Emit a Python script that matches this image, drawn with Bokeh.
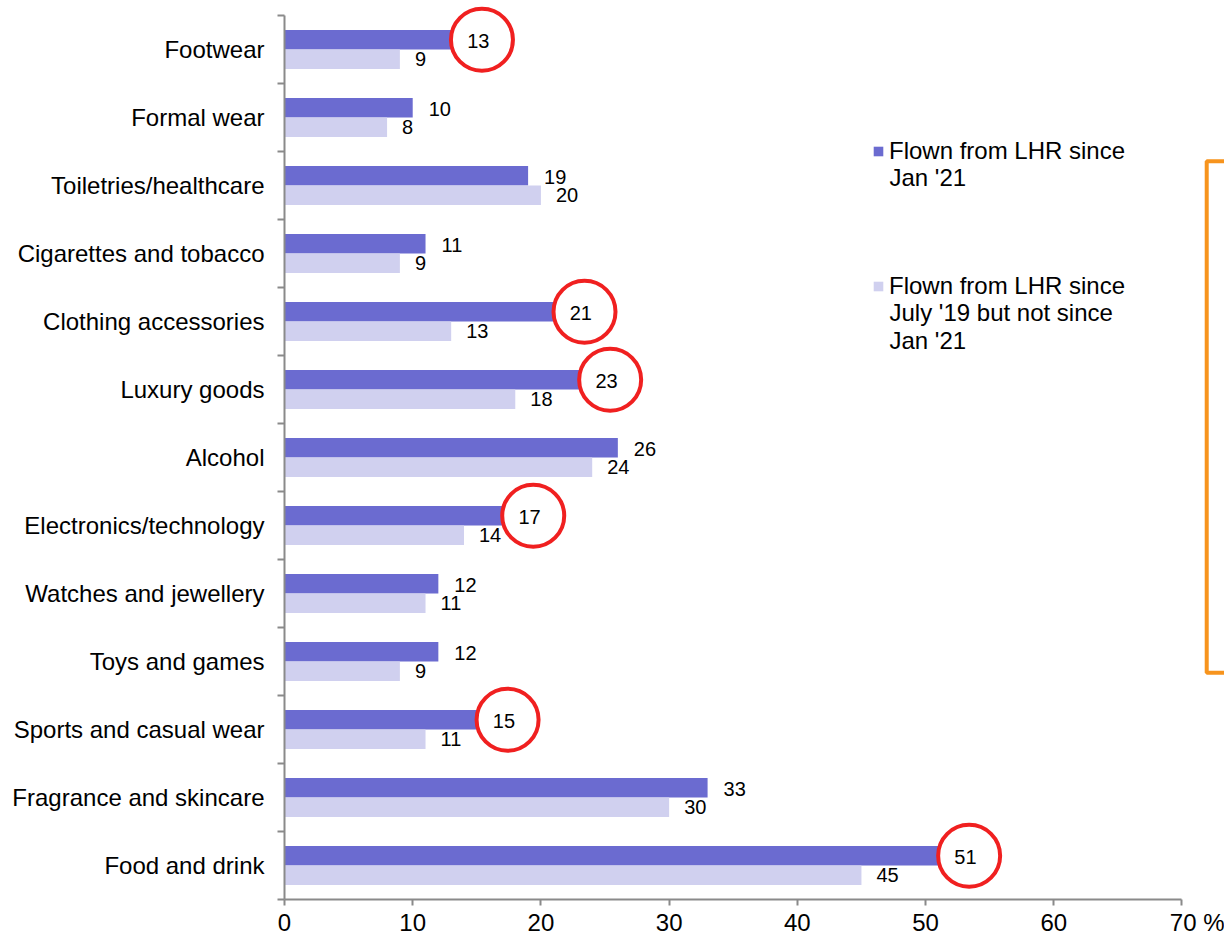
import numpy as np
from bokeh.plotting import figure
from bokeh.models import Range1d, FixedTicker, Legend, LegendItem, Label, BoxAnnotation
from bokeh.core.properties import value
from bokeh.embed import file_html
from bokeh.resources import INLINE

# ---- data (top to bottom) ----
categories = ["Footwear", "Formal wear", "Toiletries/healthcare", "Cigarettes and tobacco",
              "Clothing accessories", "Luxury goods", "Alcohol", "Electronics/technology",
              "Watches and jewellery", "Toys and games", "Sports and casual wear",
              "Fragrance and skincare", "Food and drink"]
since_jan21 = [13, 10, 19, 11, 21, 23, 26, 17, 12, 12, 15, 33, 51]
july19_not_jan21 = [9, 8, 20, 9, 13, 18, 24, 14, 11, 9, 11, 30, 45]
highlighted = ["Footwear", "Clothing accessories", "Luxury goods", "Electronics/technology",
               "Sports and casual wear", "Food and drink"]
x_ticks = [0, 10, 20, 30, 40, 50, 60, 70]
series_first_lines = ["Flown from LHR since", "Flown from LHR since"]
series_more_lines = [["Jan '21"], ["July '19 but not since", "Jan '21"]]
unit_label = "%"

DARK = "#6B6BD0"
LIGHT = "#D0D0EF"
AXIS = "#8A8A8A"
FONT = "Liberation Sans"

n = len(categories)
centers = n - 0.5 - np.arange(n)
BAR_H = 0.286
dark_y = centers + BAR_H / 2
light_y = centers - BAR_H / 2

W, H = 1224, 938
LEFT, TOP, BOTTOM = 284, 4, 38
AXIS_TOP = 15                       # where the category axis begins
frame_w = W - LEFT
band = (H - BOTTOM - AXIS_TOP) / n
px_per_unit = 12.821
x_end = frame_w / px_per_unit
y_end = n + (AXIS_TOP - TOP) / band


def y_of(py):
    # vertical page position -> y value
    return y_end - (py - TOP) / band


p = figure(width=W, height=H, x_range=Range1d(0, x_end), y_range=Range1d(0, y_end),
           output_backend="svg", toolbar_location=None,
           min_border_left=LEFT, min_border_right=0, min_border_top=TOP, min_border_bottom=BOTTOM)
p.outline_line_color = None
p.grid.visible = False
p.background_fill_color = "white"

r_dark = p.hbar(y=dark_y, left=0, right=since_jan21, height=BAR_H, fill_color=DARK, line_color=None)
r_light = p.hbar(y=light_y, left=0, right=july19_not_jan21, height=BAR_H, fill_color=LIGHT, line_color=None)

p.text(x=since_jan21, y=dark_y, text=[str(v) for v in since_jan21], x_offset=16, y_offset=1,
       text_baseline="middle", text_align="left", text_font=value(FONT), text_font_size="20px",
       text_color="black")
p.text(x=july19_not_jan21, y=light_y, text=[str(v) for v in july19_not_jan21], x_offset=15, y_offset=0,
       text_baseline="middle", text_align="left", text_font=value(FONT), text_font_size="20px",
       text_color="black")

hi_idx = [categories.index(c) for c in highlighted]
p.scatter(x=[since_jan21[i] + 2.4 for i in hi_idx], y=[dark_y[i] for i in hi_idx], marker="circle",
          size=62, fill_color=None, line_color="#F02020", line_width=4)

# axes
NB = "\u00a0"
xa = p.xaxis[0]
xa.ticker = FixedTicker(ticks=x_ticks)
xa.bounds = (0, 70)
xa.major_label_overrides = {70: NB * 5 + "70" + NB + unit_label}
xa.major_tick_out = 6
xa.major_tick_in = 0
xa.minor_tick_out = 0
xa.minor_tick_in = 0
xa.major_label_standoff = 3
xa.major_label_text_font = FONT
xa.major_label_text_font_size = "24px"
xa.major_label_text_color = "black"
xa.axis_line_color = AXIS
xa.axis_line_width = 2
xa.major_tick_line_color = AXIS
xa.major_tick_line_width = 2

ya = p.yaxis[0]
ya.ticker = FixedTicker(ticks=list(centers), minor_ticks=list(range(n + 1)))
ya.bounds = (0, n)
ya.major_label_overrides = {float(c): name for c, name in zip(centers, categories)}
ya.major_tick_out = 0
ya.major_tick_in = 0
ya.minor_tick_out = 7
ya.minor_tick_in = 0
ya.minor_tick_line_color = AXIS
ya.minor_tick_line_width = 2
ya.major_label_standoff = 13
ya.major_label_text_font = FONT
ya.major_label_text_font_size = "24px"
ya.major_label_text_color = "black"
ya.axis_line_color = AXIS
ya.axis_line_width = 2

# orange bracket
p.add_layout(BoxAnnotation(left=71.93, right=80, top=y_of(161), bottom=y_of(673),
                           fill_alpha=0, line_color="#F7941D", line_alpha=1, line_width=4))

# legend (first line of each entry with its swatch; further lines as labels beneath)
legend = Legend(items=[LegendItem(label=series_first_lines[0], renderers=[r_dark]),
                       LegendItem(label=series_first_lines[1], renderers=[r_light])],
                location=(588, 599), label_text_font=FONT, label_text_font_size="24px",
                label_text_color="black", label_height=28, glyph_width=12, glyph_height=12,
                label_standoff=5, spacing=107, padding=0, margin=0, border_line_color=None,
                background_fill_alpha=0)
p.add_layout(legend)

legend_text_x = (889 - LEFT) / px_per_unit
line_tops = [[177], [312, 340]]
for lines, tops in zip(series_more_lines, line_tops):
    for txt, yy in zip(lines, tops):
        p.add_layout(Label(x=legend_text_x, y=y_of(yy), text=txt, text_baseline="middle",
                           text_align="left", text_font=FONT, text_font_size="24px", text_color="black"))

open("out.html", "w").write(file_html(p, INLINE))
